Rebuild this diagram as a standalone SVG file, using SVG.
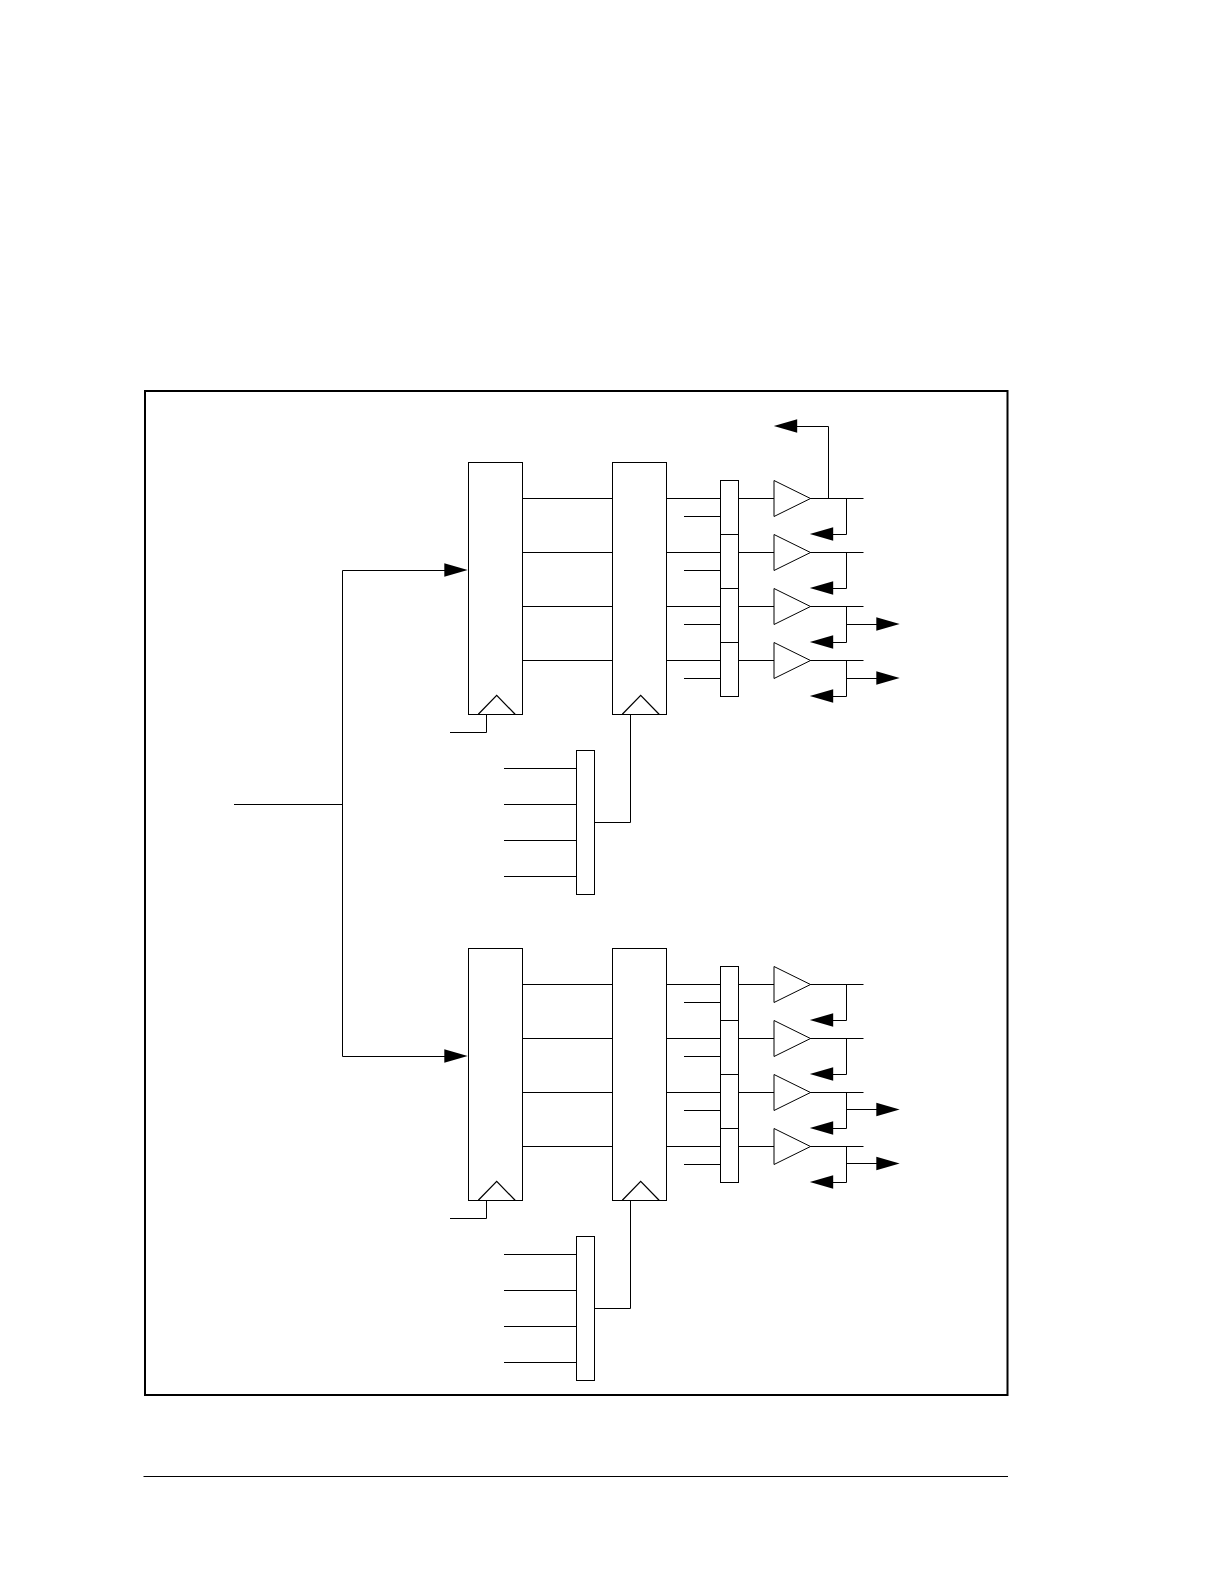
<svg xmlns="http://www.w3.org/2000/svg" width="1222" height="1584" viewBox="0 0 1222 1584">
<style>
.n{fill:#fff;stroke:#000;stroke-width:1}
.c{fill:none;stroke:#000;stroke-width:1}
.k{fill:none;stroke:#000;stroke-width:1.25}
.a{fill:#000;stroke:none}
</style>
<defs>
<polygon id="ar" class="a" points="0.700,0 -22.700,-6.700 -22.700,6.700"/>
<polygon id="al" class="a" points="-0.700,0 22.700,-6.700 22.700,6.700"/>
<polygon id="buf" class="n" points="0,-18 36.500,0 0,18"/>
<polyline id="clk" class="k" points="-18.400,0 0,-19 18.400,0"/>
</defs>
<rect id="frame" x="145" y="391" width="862.500" height="1004" fill="#fff" stroke="#000" stroke-width="2"/>
<path id="rule" class="c" d="M143.500,1476.500H1008"/>

<g id="connectors">
<path class="c" d="M234,804.500H342.500M342.500,570.500V1056.500M342.500,570.500H446M342.500,1056.500H446"/>
<use href="#ar" x="467" y="570"/><use href="#ar" x="467" y="1056"/>
<g id="upper-links">
<path class="c" d="M522.500,498.500H612.500M522.500,552.500H612.500M522.500,606.500H612.500M522.500,660.500H612.500"/>
<path class="c" d="M666.500,498.500H720.500M666.500,552.500H720.500M666.500,606.500H720.500M666.500,660.500H720.500"/>
<path class="c" d="M684,516.500H720.500M684,570.500H720.500M684,624.500H720.500M684,678.500H720.500"/>
<path class="c" d="M738.500,498.500H774M738.500,552.500H774M738.500,606.500H774M738.500,660.500H774"/>
<path class="c" d="M810,498.500H863.500M810,552.500H863.500M810,606.500H863.500M810,660.500H863.500"/>
<path class="c" d="M846.500,498.500V534.500H832M846.500,552.500V588.500H832M846.500,606.500V642.500H832M846.500,660.500V696.500H832"/>
<use href="#al" x="810.500" y="534"/><use href="#al" x="810.500" y="588"/><use href="#al" x="810.500" y="642"/><use href="#al" x="810.500" y="696"/>
<path class="c" d="M828.500,498.500V426.500H796"/><use href="#al" x="774.500" y="426"/>
<path class="c" d="M846.500,624.500H878M846.500,678.500H878"/>
<use href="#ar" x="899" y="624"/><use href="#ar" x="899" y="678"/>
<path class="c" d="M486.500,714.500V732.500H450"/>
<path class="c" d="M630.500,714.500V822.500H594.500"/>
<path class="c" d="M504,768.500H576.500M504,804.500H576.500M504,840.500H576.500M504,876.500H576.500"/>
</g>
<g id="lower-links">
<path class="c" d="M522.500,984.500H612.500M522.500,1038.500H612.500M522.500,1092.500H612.500M522.500,1146.500H612.500"/>
<path class="c" d="M666.500,984.500H720.500M666.500,1038.500H720.500M666.500,1092.500H720.500M666.500,1146.500H720.500"/>
<path class="c" d="M684,1002.500H720.500M684,1056.500H720.500M684,1110.500H720.500M684,1164.500H720.500"/>
<path class="c" d="M738.500,984.500H774M738.500,1038.500H774M738.500,1092.500H774M738.500,1146.500H774"/>
<path class="c" d="M810,984.500H863.500M810,1038.500H863.500M810,1092.500H863.500M810,1146.500H863.500"/>
<path class="c" d="M846.500,984.500V1020.500H832M846.500,1038.500V1074.500H832M846.500,1092.500V1128.500H832M846.500,1146.500V1182.500H832"/>
<use href="#al" x="810.500" y="1020"/><use href="#al" x="810.500" y="1074"/><use href="#al" x="810.500" y="1128"/><use href="#al" x="810.500" y="1182"/>
<path class="c" d="M846.500,1109.500H878M846.500,1163.500H878"/>
<use href="#ar" x="899" y="1109.500"/><use href="#ar" x="899" y="1163.500"/>
<path class="c" d="M486.500,1200.500V1218.500H450"/>
<path class="c" d="M630.500,1200.500V1308.500H594.500"/>
<path class="c" d="M504,1254.500H576.500M504,1290.500H576.500M504,1326.500H576.500M504,1362.500H576.500"/>
</g>
</g>

<g id="reg-a1"><rect class="n" x="468.500" y="462.500" width="54" height="252"/><use href="#clk" x="496.700" y="714.300"/></g>
<g id="reg-a2"><rect class="n" x="612.500" y="462.500" width="54" height="252"/><use href="#clk" x="640.700" y="714.300"/></g>
<g id="mux-a"><rect class="n" x="720.500" y="480.500" width="18" height="54"/><rect class="n" x="720.500" y="534.500" width="18" height="54"/><rect class="n" x="720.500" y="588.500" width="18" height="54"/><rect class="n" x="720.500" y="642.500" width="18" height="54"/></g>
<g id="buf-a1"><use href="#buf" x="774" y="498.500"/></g>
<g id="buf-a2"><use href="#buf" x="774" y="552.500"/></g>
<g id="buf-a3"><use href="#buf" x="774" y="606.500"/></g>
<g id="buf-a4"><use href="#buf" x="774" y="660.500"/></g>
<g id="sel-a"><rect class="n" x="576.500" y="750.500" width="18" height="144"/></g>

<g id="reg-b1"><rect class="n" x="468.500" y="948.500" width="54" height="252"/><use href="#clk" x="496.700" y="1200.300"/></g>
<g id="reg-b2"><rect class="n" x="612.500" y="948.500" width="54" height="252"/><use href="#clk" x="640.700" y="1200.300"/></g>
<g id="mux-b"><rect class="n" x="720.500" y="966.500" width="18" height="54"/><rect class="n" x="720.500" y="1020.500" width="18" height="54"/><rect class="n" x="720.500" y="1074.500" width="18" height="54"/><rect class="n" x="720.500" y="1128.500" width="18" height="54"/></g>
<g id="buf-b1"><use href="#buf" x="774" y="984.500"/></g>
<g id="buf-b2"><use href="#buf" x="774" y="1038.500"/></g>
<g id="buf-b3"><use href="#buf" x="774" y="1092.500"/></g>
<g id="buf-b4"><use href="#buf" x="774" y="1146.500"/></g>
<g id="sel-b"><rect class="n" x="576.500" y="1236.500" width="18" height="144"/></g>
</svg>
